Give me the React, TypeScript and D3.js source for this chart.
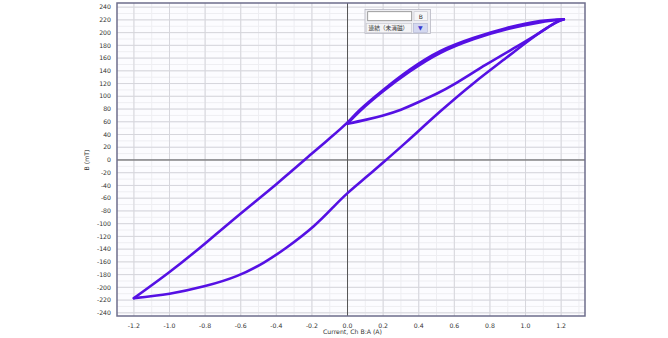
import React from "react";
import * as d3 from "d3";

// ---- data ----
const xTicks = [-1.2, -1.0, -0.8, -0.6, -0.4, -0.2, 0.0, 0.2, 0.4, 0.6, 0.8, 1.0, 1.2];
const yTicks = [-240, -220, -200, -180, -160, -140, -120, -100, -80, -60, -40, -20, 0, 20, 40, 60, 80, 100, 120, 140, 160, 180, 200, 220, 240];

// remanence point -> positive tip (first, un-demagnetised pass)
const initialCurve: [number, number][] = [
  [0.0, 57], [0.1, 63], [0.2, 70], [0.3, 79], [0.4, 91], [0.5, 104], [0.6, 119],
  [0.78, 150], [0.95, 178], [1.08, 200], [1.17, 216], [1.215, 221],
];
// positive tip -> negative tip (descending branch)
const upperBranch: [number, number][] = [
  [1.215, 221], [1.08, 218], [0.89, 207], [0.71, 192], [0.52, 171], [0.35, 142],
  [0.2, 110], [0.07, 79], [0.0, 59], [-0.1, 34], [-0.2, 10], [-0.4, -38], [-0.6, -84],
  [-0.8, -131], [-1.0, -176], [-1.2, -217],
];
// negative tip -> positive tip (ascending branch)
const lowerBranch: [number, number][] = [
  [-1.2, -217], [-1.0, -210], [-0.8, -198], [-0.62, -182], [-0.47, -161], [-0.34, -137],
  [-0.19, -104], [-0.08, -74], [0.0, -52], [0.1, -28], [0.2, -4], [0.33, 28],
  [0.52, 76], [0.71, 121], [0.89, 160], [1.04, 192], [1.16, 214], [1.215, 221],
];
// second descending pass, positive tip -> remanence point
const returnBranch: [number, number][] = [
  [1.215, 221], [1.08, 216], [0.89, 205], [0.71, 190], [0.52, 168], [0.35, 139],
  [0.2, 108], [0.07, 77], [0.0, 57],
];

const W = 668;
const H = 338;
const plot = { left: 117, right: 585, top: 3, bottom: 316 };

export default function App() {
  const x = d3.scaleLinear().domain([-1.295, 1.334]).range([plot.left, plot.right]);
  const y = d3.scaleLinear().domain([-245, 246.5]).range([plot.bottom, plot.top]);

  const line = d3
    .line<[number, number]>()
    .x((d) => x(d[0]))
    .y((d) => y(d[1]))
    .curve(d3.curveNatural);

  const xMinor = d3.range(-12, 14).map((v) => v / 10);
  const yMinor = d3.range(-24, 25).map((v) => v * 10);
  const color = "#5510e4";
  const font = "DejaVu Sans, sans-serif";

  return (
    <svg width={W} height={H} style={{ position: "absolute", left: 0, top: 0, background: "#fff" }}>
      <rect x={plot.left} y={plot.top} width={plot.right - plot.left} height={plot.bottom - plot.top} fill="#fcfcff" />
      {/* minor grid */}
      {xMinor.map((v) => (
        <line key={"xm" + v} x1={x(v)} x2={x(v)} y1={plot.top} y2={plot.bottom} stroke="#eeeef2" strokeWidth={1} />
      ))}
      {yMinor.map((v) => (
        <line key={"ym" + v} x1={plot.left} x2={plot.right} y1={y(v)} y2={y(v)} stroke="#eeeef2" strokeWidth={1} />
      ))}
      {/* major grid */}
      {xTicks.map((v) => (
        <line key={"xg" + v} x1={x(v)} x2={x(v)} y1={plot.top} y2={plot.bottom} stroke="#d6d6dc" strokeWidth={1} />
      ))}
      {yTicks.map((v) => (
        <line key={"yg" + v} x1={plot.left} x2={plot.right} y1={y(v)} y2={y(v)} stroke="#d6d6dc" strokeWidth={1} />
      ))}
      {/* zero axes */}
      <line x1={x(0)} x2={x(0)} y1={plot.top} y2={plot.bottom} stroke="#555" strokeWidth={1} />
      <line x1={plot.left} x2={plot.right} y1={y(0)} y2={y(0)} stroke="#555" strokeWidth={1} />

      {/* data */}
      <g fill="none" stroke={color} strokeLinejoin="round" strokeLinecap="round">
        <path d={line(initialCurve) || ""} strokeWidth={2.6} />
        <path d={line(upperBranch) || ""} strokeWidth={2.6} />
        <path d={line(lowerBranch) || ""} strokeWidth={2.6} />
        <path d={line(returnBranch) || ""} strokeWidth={2.6} />
      </g>

      {/* border */}
      <rect x={plot.left} y={plot.top} width={plot.right - plot.left} height={plot.bottom - plot.top} fill="none" stroke="#6e6e8c" strokeWidth={1.5} />

      {/* tick labels */}
      {yTicks.map((v) => (
        <text key={"yl" + v} x={111} y={y(v) + 2.2} textAnchor="end" fontSize={6.2} fontFamily={font} fill="#333">
          {v}
        </text>
      ))}
      {xTicks.map((v) => (
        <text key={"xl" + v} x={x(v)} y={327.5} textAnchor="middle" fontSize={6.2} fontFamily={font} fill="#333">
          {v.toFixed(1)}
        </text>
      ))}
      <text x={323} y={334} fontSize={6.2} fontFamily={font} fill="#333">Current, Ch B:A (A)</text>
      <text transform="translate(89,160) rotate(-90)" textAnchor="middle" fontSize={6.2} fontFamily={font} fill="#333">B (mT)</text>

      {/* legend widget */}
      <g>
        <rect x={365} y={9.5} width={65.5} height={24} fill="#eeeef2" stroke="#b8b8c4" strokeWidth={0.8} />
        <rect x={367.7} y={11.7} width={44} height={9} fill="#fff" stroke="#888" strokeWidth={0.8} />
        <rect x={414} y={11.7} width={13.5} height={9} fill="#f6f6f8" stroke="#c4c4cc" strokeWidth={0.6} />
        <text x={420.7} y={18.6} textAnchor="middle" fontSize={6} fontFamily={font} fill="#333">B</text>
        <rect x={366.2} y={23.3} width={45.5} height={9.3} fill="#f4f4f6" stroke="#c4c4cc" strokeWidth={0.6} />
        <text x={368.5} y={30.2} fontSize={5.7} fontFamily="Noto Sans CJK JP, sans-serif" fill="#333">連結（未消磁）</text>
        <rect x={413.3} y={23.3} width={14} height={9.3} fill="#d4d8f0" stroke="#b0b4d0" strokeWidth={0.6} />
        <text x={420.3} y={30.3} textAnchor="middle" fontSize={6} fontFamily={font} fill="#3a3ad0">▼</text>
      </g>
    </svg>
  );
}
